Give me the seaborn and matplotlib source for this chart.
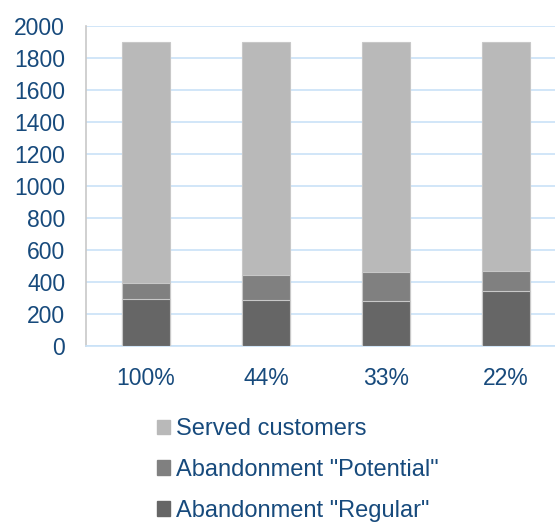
import matplotlib
matplotlib.use("Agg")
import matplotlib.pyplot as plt
import matplotlib.patches as mpatches
import seaborn as sns
import pandas as pd

categories = ["100%", "44%", "33%", "22%"]
regular = [295, 290, 280, 345]
potential = [100, 155, 185, 125]
served = [1505, 1455, 1435, 1430]

sns.set_theme(style="white")
plt.rcParams["font.family"] = ["Liberation Sans", "DejaVu Sans"]

TEXT = "#174a7c"
GRID = "#c9e2f7"
C_SERVED = "#b9b9b9"
C_POT = "#808080"
C_REG = "#666666"
FS = 16.5
LEG_FS = 17

df = pd.DataFrame({
    "cat": categories,
    "regular": regular,
    "potential": potential,
    "served": served,
})
df["mid"] = df["regular"] + df["potential"]
df["total"] = df["mid"] + df["served"]

fig = plt.figure(figsize=(5.55, 5.23), dpi=100)
ax = fig.add_axes([86 / 555, (523 - 346) / 523, 480 / 555, 320 / 523])

edge = dict(edgecolor="#c8c8c8", linewidth=0.8)
sns.barplot(data=df, x="cat", y="total", color=C_SERVED, width=0.4,
            saturation=1, ax=ax, zorder=3, **edge)
sns.barplot(data=df, x="cat", y="mid", color=C_POT, width=0.4,
            saturation=1, ax=ax, zorder=3, **edge)
sns.barplot(data=df, x="cat", y="regular", color=C_REG, width=0.4,
            saturation=1, ax=ax, zorder=3, **edge)

ax.set_ylim(0, 2000)
ax.set_xlim(-0.5, 3.5)
ax.set_yticks(range(0, 2001, 200))
ax.yaxis.grid(True, color=GRID, linewidth=1.2, zorder=0)
ax.set_axisbelow(True)
ax.set_xlabel("")
ax.set_ylabel("")
ax.tick_params(axis="both", length=0, labelsize=FS, colors=TEXT)
ax.tick_params(axis="x", pad=15)
ax.tick_params(axis="y", pad=15)
for lab in ax.get_xticklabels() + ax.get_yticklabels():
    lab.set_color(TEXT)

for s in ["top", "right"]:
    ax.spines[s].set_visible(False)
ax.spines["left"].set_color("#c8c8c8")
ax.spines["left"].set_linewidth(1.2)
ax.spines["bottom"].set_color(GRID)
ax.spines["bottom"].set_linewidth(1.2)

handles = [
    mpatches.Patch(color=C_SERVED, label="Served customers"),
    mpatches.Patch(color=C_POT, label='Abandonment "Potential"'),
    mpatches.Patch(color=C_REG, label='Abandonment "Regular"'),
]
leg = fig.legend(handles=handles, loc="upper left",
                 bbox_to_anchor=(157 / 555, 1 - 418 / 523),
                 frameon=False, fontsize=LEG_FS, labelspacing=0.8,
                 handlelength=0.55, handleheight=0.55, handletextpad=0.25,
                 borderaxespad=0, borderpad=0)
for t in leg.get_texts():
    t.set_color(TEXT)

fig.savefig("out.png", dpi=100)
